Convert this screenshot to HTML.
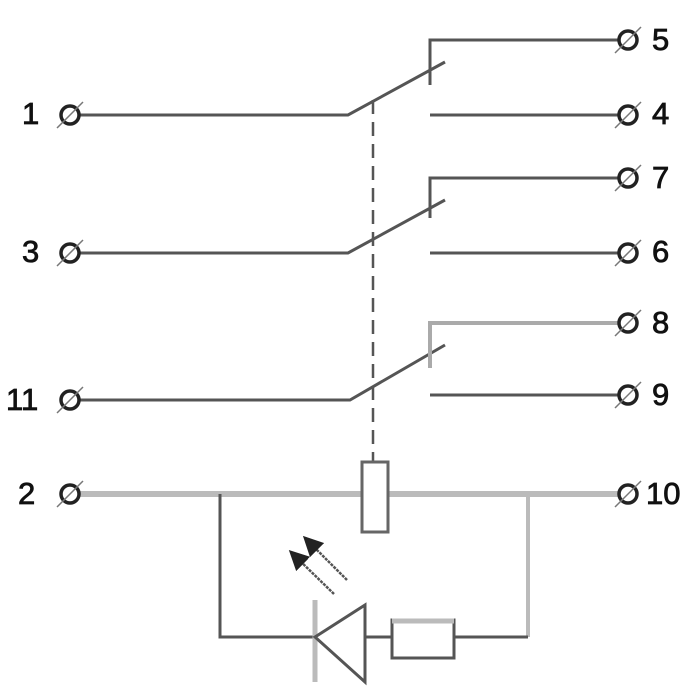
<!DOCTYPE html>
<html><head><style>body{margin:0;background:#fff}svg{display:block}</style></head><body>
<svg width="700" height="700" viewBox="0 0 700 700" xmlns="http://www.w3.org/2000/svg" font-family="Liberation Sans, Arial, sans-serif" font-size="31" fill="#111">
<defs>
<g id="t"><circle r="9" fill="#fff" stroke="#222" stroke-width="3.5"/><line x1="-13" y1="13" x2="13" y2="-13" stroke="#777" stroke-width="1.5"/></g>
<marker id="ah" markerWidth="8" markerHeight="8" refX="4" refY="4" orient="auto"><path d="M0,0 L8,4 L0,8z" fill="#222"/></marker>
</defs>
<g stroke="#555" stroke-width="3" fill="none">
<polyline points="80,115 348,115 445,62"/>
<polyline points="620,40 430,40 430,85"/>
<line x1="430" y1="115" x2="620" y2="115"/>
<polyline points="80,253 348,253 445,200"/>
<polyline points="620,178 430,178 430,218"/>
<line x1="430" y1="253" x2="620" y2="253"/>
<polyline points="80,400 350,400 445,345"/>
<polyline points="620,323 430,323 430,368" stroke="#aaa" stroke-width="4"/>
<line x1="430" y1="395" x2="620" y2="395"/>
<line x1="373" y1="100" x2="373" y2="462" stroke-dasharray="14,8" stroke-width="2.5"/>
<line x1="80" y1="494" x2="620" y2="494" stroke="#bbb" stroke-width="6"/>
<rect x="362" y="462" width="26" height="70" fill="#fff" stroke="#666"/>
<polyline points="220,494 220,637 315,637"/>
<line x1="528" y1="494" x2="528" y2="637" stroke="#bbb" stroke-width="4"/>
<line x1="315" y1="600" x2="315" y2="682" stroke="#bbb" stroke-width="5"/>
<polygon points="315,637 365,605 365,682"/>
<line x1="365" y1="637" x2="392" y2="637"/>
<rect x="392" y="620" width="62" height="38" fill="#fff"/>
<line x1="392" y1="621" x2="454" y2="621" stroke="#bbb" stroke-width="5"/>
<line x1="454" y1="637" x2="528" y2="637"/>
<line x1="347" y1="580" x2="310" y2="543" stroke-width="2.5" stroke-dasharray="3,1" marker-end="url(#ah)"/>
<line x1="334" y1="594" x2="296" y2="557" stroke-width="2.5" stroke-dasharray="3,1" marker-end="url(#ah)"/>
</g>
<use href="#t" x="70" y="115"/><use href="#t" x="70" y="253"/><use href="#t" x="70" y="400"/><use href="#t" x="70" y="494"/>
<use href="#t" x="628" y="40"/><use href="#t" x="628" y="115"/><use href="#t" x="628" y="178"/><use href="#t" x="628" y="253"/><use href="#t" x="628" y="323"/><use href="#t" x="628" y="395"/><use href="#t" x="628" y="494"/>
<g stroke="#111" stroke-width="0.8">
<text x="22" y="124">1</text><text x="22" y="262">3</text><text x="6" y="410">11</text><text x="18" y="504">2</text>
<text x="652" y="50">5</text><text x="652" y="124">4</text><text x="652" y="188">7</text><text x="652" y="262">6</text><text x="652" y="333">8</text><text x="652" y="405">9</text><text x="646" y="504">10</text>
</g>
</svg>
</body></html>
